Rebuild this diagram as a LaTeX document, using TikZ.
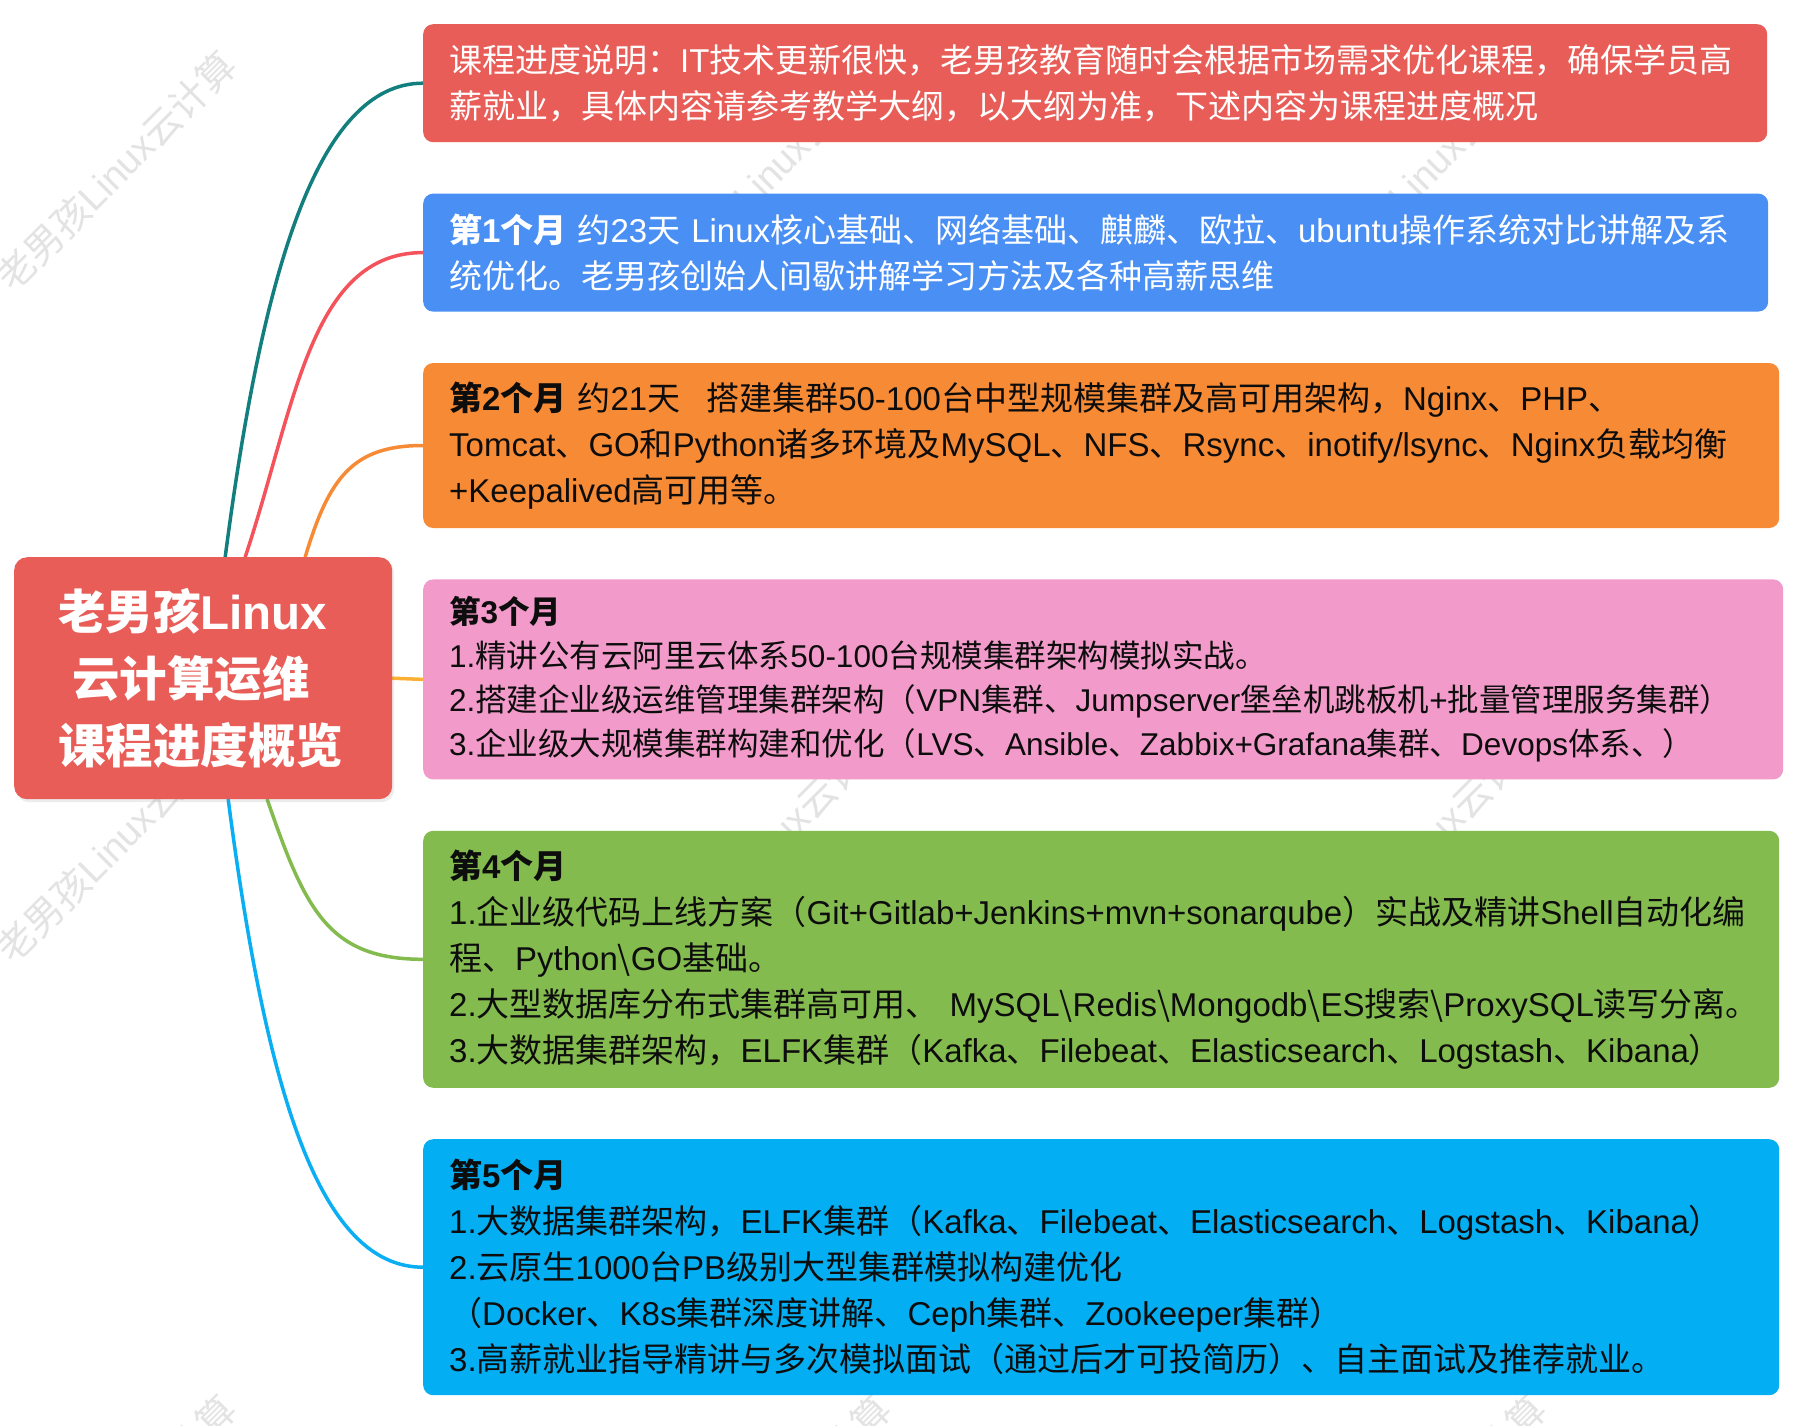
\documentclass[tikz,border=0pt]{standalone}
\usepackage{fontspec}
\setmainfont{Noto Sans CJK SC}
\newfontfamily\latinfont{Liberation Sans}
% 西文字符用 Liberation Sans
\makeatletter
\newXeTeXintercharclass\latinclass
\def\setlatinrange#1#2{\@tempcnta=#1\relax
  \loop\XeTeXcharclass\@tempcnta=\latinclass
  \ifnum\@tempcnta<#2\advance\@tempcnta by 1\repeat}
\setlatinrange{`A}{`Z}\setlatinrange{`a}{`z}\setlatinrange{`0}{`9}
\XeTeXcharclass`\.=\latinclass
\XeTeXcharclass`\+=\latinclass
\XeTeXcharclass`\-=\latinclass
\XeTeXcharclass`\/=\latinclass
\makeatother
\XeTeXinterchartoks 0 \latinclass = {\begingroup\latinfont}
\XeTeXinterchartoks 255 \latinclass = {\begingroup\latinfont}
\XeTeXinterchartoks 4095 \latinclass = {\begingroup\latinfont}
\XeTeXinterchartoks \latinclass 0 = {\endgroup}
\XeTeXinterchartoks \latinclass 255 = {\endgroup}
\XeTeXinterchartoks \latinclass 4095 = {\endgroup}
\usepackage{tikz}
\usetikzlibrary{positioning,backgrounds,shadows}
\definecolor{rootred}{HTML}{E85D57}
\definecolor{noteblue}{HTML}{4A90F4}
\definecolor{monthorange}{HTML}{F78A35}
\definecolor{monthpink}{HTML}{F29AC9}
\definecolor{monthgreen}{HTML}{84BB4E}
\definecolor{monthcyan}{HTML}{03AEF3}
\definecolor{lineteal}{HTML}{127E7E}
\definecolor{linered}{HTML}{F4535B}
\definecolor{lineyellow}{HTML}{FBB034}
\definecolor{lineblue}{HTML}{0AAEF2}

\begin{document}
\XeTeXinterchartokenstate=1
\begin{tikzpicture}[
    x=1pt, y=-1pt,
    node distance=51pt,
    box/.style={
        rectangle, rounded corners=10pt, inner xsep=26pt, inner ysep=0pt,
        anchor=north west, align=left, text=black!95,
        font=\fontsize{33}{46}\selectfont
    },
    rootbox/.style={
        rectangle, rounded corners=13pt, fill=rootred, text=white,
        inner xsep=0pt, text width=378pt, minimum height=242pt, anchor=north west,
        align=left, font=\bfseries\fontsize{47.5}{67}\selectfont,
        drop shadow={shadow xshift=2pt, shadow yshift=-3pt, opacity=0.15}
    },
    branch/.style={line width=3.5pt, line cap=round},
    watermark/.style={text=black!11, rotate=45, font=\fontsize{38}{40}\selectfont}
]
\useasboundingbox (0,0) rectangle (1816,1425);

% 中心主题
\node[rootbox] (root) at (14,557) {\hspace*{44pt}老男孩Linux\\\hspace*{58pt}云计算运维\\\hspace*{44pt}课程进度概览};

% 右侧: 说明 + 五个月
\node[box, fill=rootred, text=white, text width=1292pt, minimum height=118pt] (note) at (423,24)
    {课程进度说明：IT技术更新很快，老男孩教育随时会根据市场需求优化课程，确保学员高\\薪就业，具体内容请参考教学大纲，以大纲为准，下述内容为课程进度概况};
\node[box, below=of note.south west, anchor=north west, fill=noteblue, text=white, text width=1293pt, minimum height=118pt] (m1)
    {\textbf{第1个月}~约23天~Linux核心基础、网络基础、麒麟、欧拉、ubuntu操作系统对比讲解及系\\统优化。老男孩创始人间歇讲解学习方法及各种高薪思维};
\node[box, below=of m1.south west, anchor=north west, fill=monthorange, text width=1304pt, minimum height=165pt] (m2)
    {\textbf{第2个月}~约21天\hspace{26pt}搭建集群50-100台中型规模集群及高可用架构，Nginx、PHP、\\Tomcat、GO和Python诸多环境及MySQL、NFS、Rsync、inotify/lsync、Nginx负载均衡\\+Keepalived高可用等。};
\node[box, below=of m2.south west, anchor=north west, fill=monthpink, text width=1308pt, minimum height=200pt,
      font=\fontsize{31.5}{44}\selectfont] (m3)
    {\textbf{第3个月}\\1.精讲公有云阿里云体系50-100台规模集群架构模拟实战。\\2.搭建企业级运维管理集群架构（VPN集群、Jumpserver堡垒机跳板机+批量管理服务集群）\\3.企业级大规模集群构建和优化（LVS、Ansible、Zabbix+Grafana集群、Devops体系、）};
\node[box, below=of m3.south west, anchor=north west, fill=monthgreen, text width=1304pt, minimum height=257pt] (m4)
    {\textbf{第4个月}\\1.企业级代码上线方案（Git+Gitlab+Jenkins+mvn+sonarqube）实战及精讲Shell自动化编\\程、Python\textbackslash GO基础。\\2.大型数据库分布式集群高可用、~MySQL\textbackslash Redis\textbackslash Mongodb\textbackslash ES搜索\textbackslash ProxySQL读写分离。\\3.大数据集群架构，ELFK集群（Kafka、Filebeat、Elasticsearch、Logstash、Kibana）};
\node[box, below=of m4.south west, anchor=north west, fill=monthcyan, text width=1304pt, minimum height=256pt] (m5)
    {\textbf{第5个月}\\1.大数据集群架构，ELFK集群（Kafka、Filebeat、Elasticsearch、Logstash、Kibana）\\2.云原生1000台PB级别大型集群模拟构建优化\\（Docker、K8s集群深度讲解、Ceph集群、Zookeeper集群）\\3.高薪就业指导精讲与多次模拟面试（通过后才可投简历）、自主面试及推荐就业。};

\begin{scope}[on background layer]
    \fill[white] (0,0) rectangle (1816,1425);
    % 水印
    \foreach \i in {0,1,2}
        \foreach \j in {0,1,2}
            \node[watermark] (wm\i\j) at (116+655*\i, 171+672*\j) {老男孩Linux云计算};
    % 分支曲线
    \draw[branch, lineteal] ([xshift=22pt]root.north) .. controls +(37,-284) and +(-106,0) .. (note.west);
    \draw[branch, linered] ([xshift=42pt]root.north) .. controls +(50,-150) and +(-113,0) .. (m1.west);
    \draw[branch, monthorange] ([xshift=102pt]root.north) .. controls +(24,-80) and +(-70,0) .. (m2.west);
    \draw[branch, lineyellow] (root.east) -- (m3.west);
    \draw[branch, monthgreen] ([xshift=64pt]root.south) .. controls +(38,110) and +(-95,0) .. (m4.west);
    \draw[branch, lineblue] ([xshift=25pt]root.south) .. controls +(37,284) and +(-106,0) .. (m5.west);
\end{scope}

\end{tikzpicture}
\end{document}
